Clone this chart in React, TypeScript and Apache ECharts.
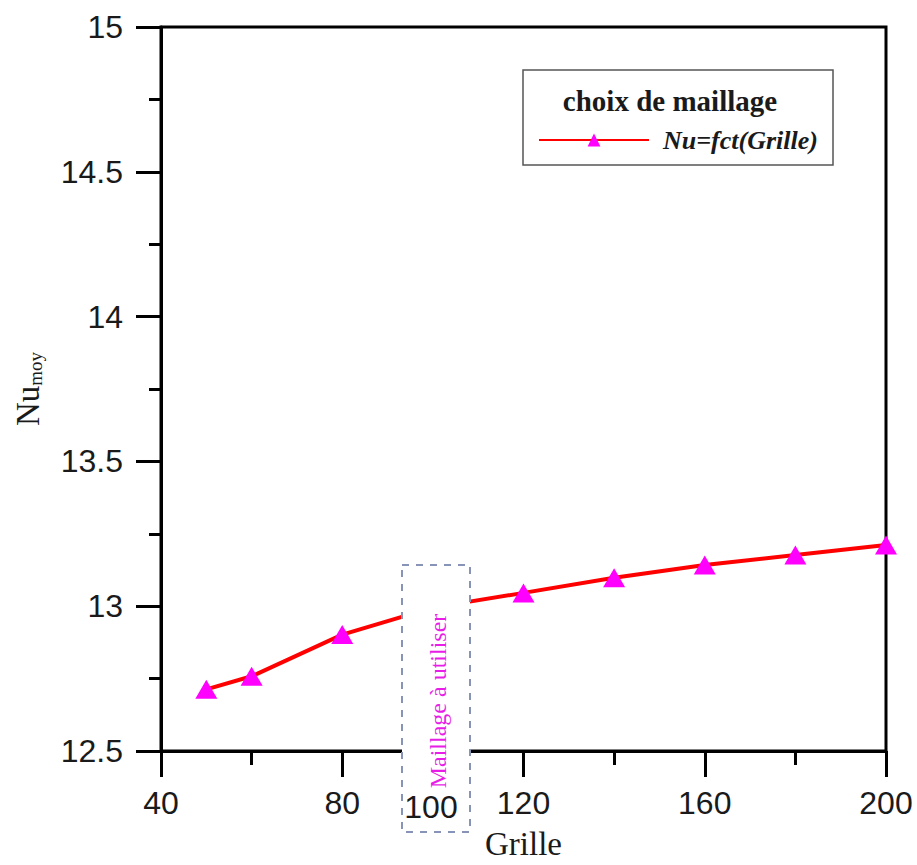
import React, { useEffect, useRef } from 'react';
import * as echarts from 'echarts';

const grille = [50, 60, 80, 100, 120, 140, 160, 180, 200];
const nuMoy = [12.713, 12.758, 12.902, 12.995, 13.046, 13.098, 13.142, 13.177, 13.211];
const seriesName = 'Nu=fct(Grille)';
const legendTitle = 'choix de maillage';
const boxNote = 'Maillage à utiliser';
const boxLabel = '100';
const xName = 'Grille';

const serif = '"Liberation Serif", "Times New Roman", serif';
const sans = '"Liberation Sans", Arial, sans-serif';
const ink = '#1a1a1a';

export default function App() {
  const ref = useRef<HTMLDivElement>(null);
  useEffect(() => {
    const chart = echarts.init(ref.current!, null, { renderer: 'svg' });
    const axisLine = { show: true, onZero: false, lineStyle: { color: '#000', width: 3 } };
    chart.setOption({
      animation: false,
      backgroundColor: '#fff',
      grid: { left: 158, right: 31, top: 27, bottom: 110, show: true, borderColor: '#000', borderWidth: 3 },
      xAxis: {
        type: 'value', min: 40, max: 200, interval: 40, position: 'bottom',
        axisLine,
        axisTick: { show: true, length: 26, lineStyle: { color: '#000', width: 3 } },
        minorTick: { show: true, splitNumber: 2, length: 14, lineStyle: { color: '#000', width: 3 } },
        axisLabel: { margin: 36, fontSize: 32, fontFamily: sans, color: ink },
        splitLine: { show: false },
        name: xName, nameLocation: 'middle', nameGap: 76,
        nameTextStyle: { fontFamily: serif, fontSize: 33, color: ink },
      },
      yAxis: {
        type: 'value', min: 12.5, max: 15, interval: 0.5,
        axisLine,
        axisTick: { show: true, length: 25, lineStyle: { color: '#000', width: 3 } },
        minorTick: { show: true, splitNumber: 2, length: 12, lineStyle: { color: '#000', width: 3 } },
        axisLabel: { margin: 38, fontSize: 32, fontFamily: sans, color: ink },
        splitLine: { show: false },
        name: '{n|Nu}{s|moy}', nameLocation: 'middle', nameRotate: 90, nameGap: 116,
        nameTextStyle: {
          rich: {
            n: { fontFamily: serif, fontSize: 33, color: ink, lineHeight: 34, verticalAlign: 'top' },
            s: { fontFamily: serif, fontSize: 19, color: ink, lineHeight: 22, padding: [18, 0, 0, 0], verticalAlign: 'bottom' },
          },
        },
      },
      legend: {
        data: [seriesName], left: 538, top: 127, padding: 0, itemWidth: 110, itemHeight: 16,
        selectedMode: false,
        textStyle: { fontFamily: serif, fontWeight: 'bold', fontStyle: 'italic', fontSize: 26, color: ink, padding: [0, 0, 0, 9] },
      },
      series: [
        {
          name: seriesName, type: 'line',
          data: grille.map((g, i) => [g, nuMoy[i]]),
          symbol: 'triangle', symbolSize: [22, 19],
          itemStyle: { color: '#ff00ff' },
          lineStyle: { color: '#ff0000', width: 4 },
          z: 2,
        },
      ],
      graphic: [
        { type: 'rect', z: 1, shape: { x: 523, y: 70, width: 310, height: 95 }, style: { fill: '#fff', stroke: '#555', lineWidth: 1.5 } },
        { type: 'text', z: 5, style: { text: legendTitle, x: 670, y: 101, textAlign: 'center', textVerticalAlign: 'middle', font: `bold 29px ${serif}`, fill: ink } },
        { type: 'rect', z: 5, shape: { x: 402, y: 565, width: 68, height: 267 }, style: { fill: '#fff', stroke: '#8794b8', lineWidth: 2, lineDash: [7, 7] } },
        { type: 'text', z: 6, x: 438, y: 701, rotation: Math.PI / 2, style: { text: boxNote, x: 0, y: 0, textAlign: 'center', textVerticalAlign: 'middle', font: `24px ${serif}`, fill: '#e81ee8' } },
        { type: 'text', z: 6, style: { text: boxLabel, x: 431, y: 791, textAlign: 'center', textVerticalAlign: 'top', font: `32px ${sans}`, fill: ink } },
      ],
    });
    return () => chart.dispose();
  }, []);
  return <div ref={ref} style={{ position: 'fixed', left: 0, top: 0, width: 917, height: 865, background: '#fff' }} />;
}
